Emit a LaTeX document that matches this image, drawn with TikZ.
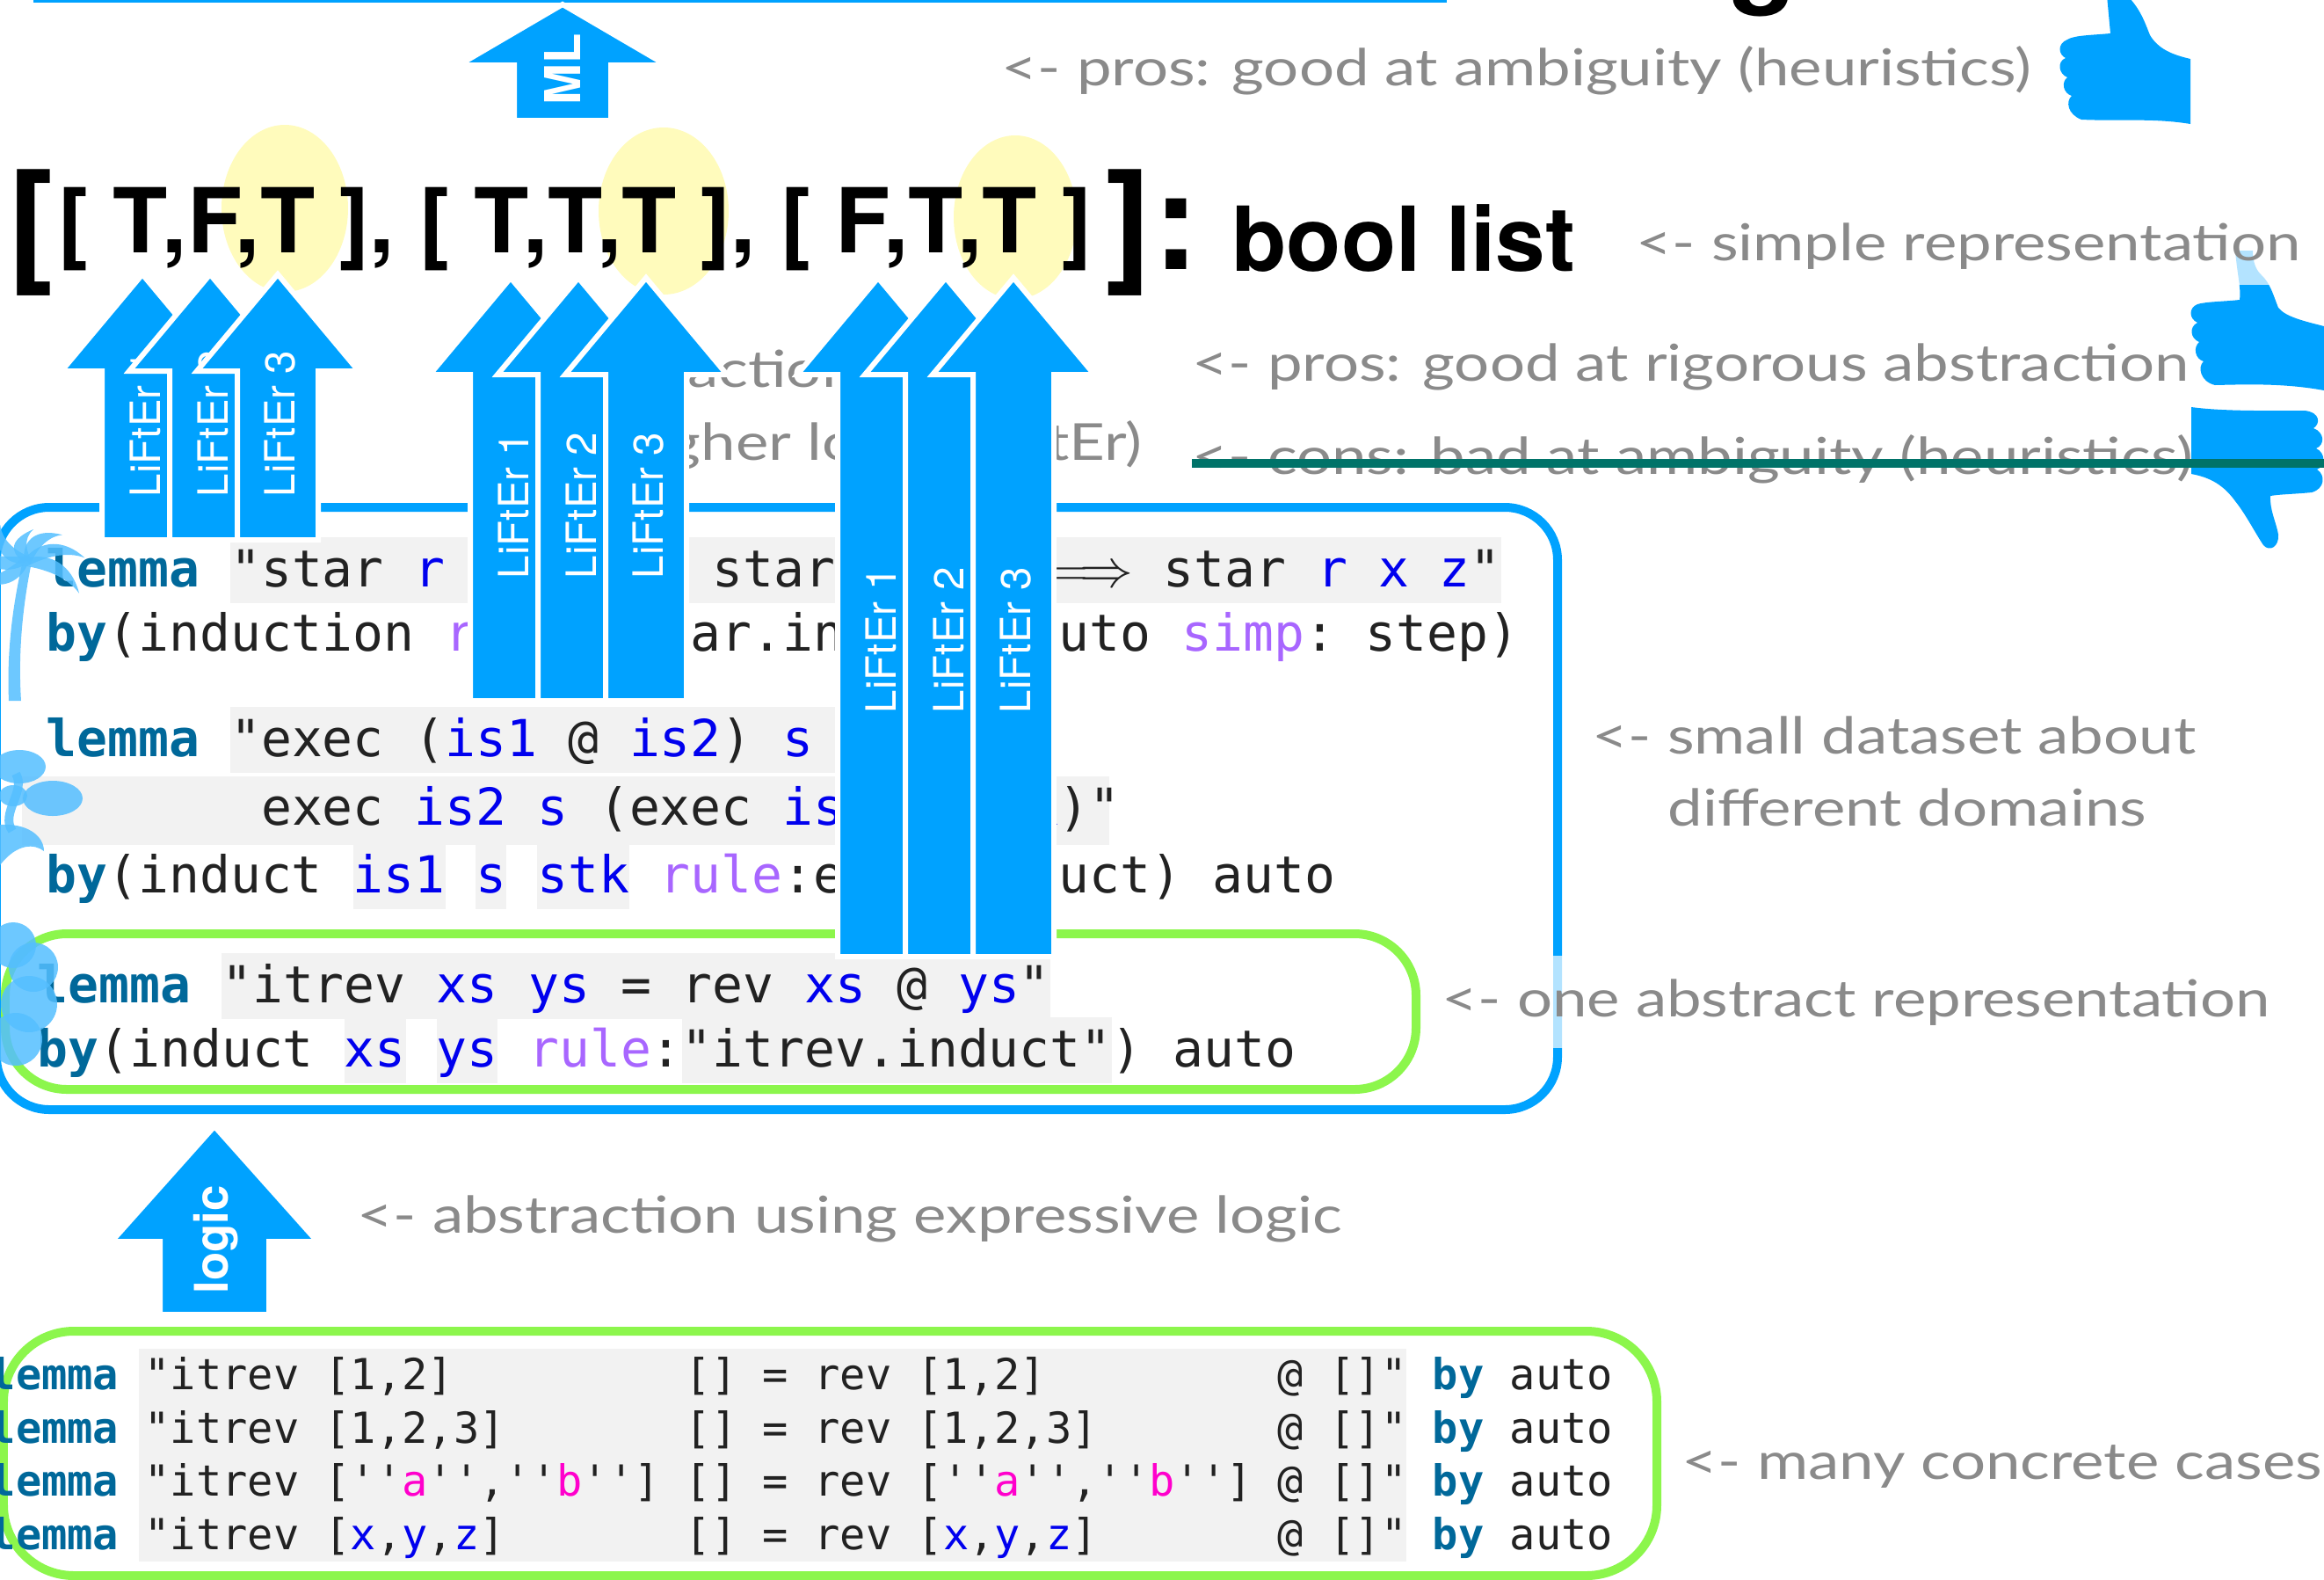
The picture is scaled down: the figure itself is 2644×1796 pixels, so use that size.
\documentclass[tikz,border=0pt]{standalone}
\usepackage{fontspec}
\setmonofont{DejaVu Sans Mono}
\newfontfamily\heros{TeX Gyre Heros}
\newfontfamily\notefont{Lato}[FakeStretch=1.22]

\definecolor{arrowblue}{RGB}{0,162,255}
\definecolor{boxgreen}{RGB}{140,246,76}
\definecolor{hiyellow}{RGB}{255,251,188}
\definecolor{notegray}{RGB}{138,138,138}
\definecolor{striketeal}{RGB}{0,115,105}
\definecolor{treeblue}{RGB}{84,190,255}
\definecolor{kwteal}{RGB}{0,104,154}
\definecolor{varblue}{RGB}{0,0,238}
\definecolor{rulepurple}{RGB}{168,102,255}
\definecolor{strpink}{RGB}{255,0,204}
\definecolor{codegray}{RGB}{242,242,242}
\definecolor{codeink}{RGB}{34,34,34}

% isabelle highlighting
\newcommand\kw[1]{\textcolor{kwteal}{\bfseries #1}}
\newcommand\vr[1]{\textcolor{varblue}{#1}}
\newcommand\prp[1]{\textcolor{rulepurple}{#1}}
\newcommand\chr[1]{\textcolor{strpink}{#1}}
\newcommand\hlt[1]{{\setlength\fboxsep{0pt}\colorbox{codegray}{\rule[-5.5pt]{0pt}{21.5pt}#1}}}

% block arrow: tip x, tip y, head base y, bottom y, head half width, shaft half width
\newcommand\blockarrow[6]{%
  \draw[arrowbody] (#1,#2) -- (#1+#5,#3) -- (#1+#6,#3) -- (#1+#6,#4)
    -- (#1-#6,#4) -- (#1-#6,#3) -- (#1-#5,#3) -- cycle;}

\tikzset{
  arrowbody/.style={fill=arrowblue,draw=white,line width=0.6mm},
  liftlabel/.style={rotate=90,inner sep=0,text=white,font=\heros\fontsize{13.5}{16}\selectfont},
  arrowword/.style={rotate=90,inner sep=0,text=white,font=\heros\bfseries\fontsize{16}{18}\selectfont},
  note/.style={anchor=base west,inner sep=0,text=notegray,font=\notefont\fontsize{16.5}{20}\selectfont},
  veil/.style={fill=white,fill opacity=0.7,text opacity=1},
  code/.style={anchor=base west,inner sep=0,text=codeink,font=\ttfamily\fontsize{16.5}{21.5}\selectfont},
  smallcode/.style={anchor=base west,inner sep=0,text=codeink,font=\ttfamily\fontsize{13.85}{17}\selectfont},
  bigbr/.style={anchor=base west,inner sep=0,font=\heros\bfseries\fontsize{44}{48}\selectfont},
  roundbox/.style={line width=1mm,rounded corners=6mm},
  tree/.style={fill=treeblue,opacity=0.85},
  strike/.style={draw=striketeal,line width=1mm}
}

\begin{document}
\begin{tikzpicture}[x=0.1mm,y=-0.1mm]
\useasboundingbox (0,0) rectangle (2644,1796);

% title remains
\draw[arrowblue,line width=0.4mm] (38,1) -- (1646,1);
\node[anchor=base west,inner sep=0,font=\heros\bfseries\fontsize{36}{40}\selectfont] (titleg) at (1966,-9) {g};

% highlighted last elements
\fill[hiyellow] (324,237) ellipse [x radius=7.2mm,y radius=9.5mm];
\fill[hiyellow] (755,240) ellipse [x radius=7.4mm,y radius=9.5mm];
\fill[hiyellow] (1155,247) ellipse [x radius=7mm,y radius=9.3mm];

% the feature vectors
\node[bigbr] (lbr) at (9,305) {[};
\node[anchor=base west,inner sep=0,font=\heros\bfseries\fontsize{29}{32}\selectfont] (vecs) at (66,287) {[ T,F,T ], [ T,T,T ], [ F,T,T ]};
\node[bigbr] (rbr) at (1258,305) {]};
\node[bigbr] (colon) at (1312,306) {:};
\node[anchor=base west,inner sep=0,font=\heros\bfseries\fontsize{29}{32}\selectfont] (type) at (1401,308) {bool list};

% notes hidden behind the arrows
\node[note,anchor=base east] (n5) at (975,440) {<- abstraction};
\node[note,anchor=base east] (n6) at (1300,523) {in higher logic (LiFtEr)};

% dataset boxes
\draw[roundbox,arrowblue] (-4,577) rectangle (1772,1262);
\draw[roundbox,boxgreen,rounded corners=7mm] (6,1062) rectangle (1611,1239);
\draw[roundbox,boxgreen,rounded corners=8mm] (4,1514) rectangle (1885,1792);

% small dataset
\node[code] (lem1) at (52,667) {\kw{lemma} \hlt{"star \vr{r} \vr{x} \vr{y} $\Longrightarrow$ star \vr{r} \vr{y} \vr{z} $\Longrightarrow$ star \vr{r} \vr{x} \vr{z}"}};
\node[code] (by1) at (52,740) {\kw{by}(induction \prp{rule}: star.induct)(auto \prp{simp}: step)};
\node[code] (lem2) at (52,860) {\kw{lemma} \hlt{"exec (\vr{is1} @ \vr{is2}) \vr{s} \vr{stk} =}};
\fill[codegray] (25,883) rectangle (1262,961);
\node[code] (lem2b) at (52,938) {\hphantom{lemma "}exec \vr{is2} \vr{s} (exec \vr{is1} \vr{s} \vr{stk})"};
\node[code] (by2) at (52,1015) {\kw{by}(induct \hlt{\vr{is1}} \hlt{\vr{s}} \hlt{\vr{stk}} \prp{rule}:exec.induct) auto};
\node[code] (lem3) at (42,1140) {\kw{lemma} \hlt{"itrev \vr{xs} \vr{ys} = rev \vr{xs} @ \vr{ys}"}};
\node[code] (by3) at (42,1213) {\kw{by}(induct \hlt{\vr{xs}} \hlt{\vr{ys}} \prp{rule}:\hlt{"itrev.induct"}) auto};

% domain icons: palm, bonsai, oak
\fill[tree] (25,642) .. controls (12,700) and (8,750) .. (10,797) -- (24,797) .. controls (21,750) and (24,700) .. (35,644) -- cycle;
\foreach \ang/\len in {-25/70,10/66,45/50,90/36,135/50,170/66,205/62}
  \fill[tree,rotate around={\ang:(30,638)}] (30,634) .. controls (30+0.3*\len,618) and (30+0.7*\len,620) .. (30+\len,646)
    .. controls (30+0.7*\len,634) and (30+0.3*\len,638) .. (30,644) -- cycle;
\fill[tree] (22,872) ellipse [x radius=3mm,y radius=1.9mm];
\fill[tree] (60,908) ellipse [x radius=3.4mm,y radius=2mm];
\fill[tree] (15,905) ellipse [x radius=1.6mm,y radius=1.2mm];
\draw[treeblue,line width=1mm,opacity=0.85] (14,945) .. controls (0,925) and (30,900) .. (18,880);
\fill[tree] (0,938) .. controls (30,936) and (50,950) .. (50,968) .. controls (40,960) and (20,958) .. (0,984) -- cycle;
\fill[tree] (15,1075) circle [radius=2.6mm];
\fill[tree] (38,1100) circle [radius=2.8mm];
\fill[tree] (33,1142) circle [radius=3.2mm];
\fill[tree] (18,1182) circle [radius=3mm];

% concrete cases
\fill[codegray] (158,1534) rectangle (1600,1776);
\node[smallcode] (ex1) at (-12,1580) {\kw{lemma} "itrev [1,2]~~~~~~~~~[] = rev [1,2]~~~~~~~~~@ []" \kw{by} auto};
\node[smallcode] (ex2) at (-12,1641) {\kw{lemma} "itrev [1,2,3]~~~~~~~[] = rev [1,2,3]~~~~~~~@ []" \kw{by} auto};
\node[smallcode] (ex3) at (-12,1701) {\kw{lemma} "itrev [''\chr{a}'',''\chr{b}''] [] = rev [''\chr{a}'',''\chr{b}''] @ []" \kw{by} auto};
\node[smallcode] (ex4) at (-12,1762) {\kw{lemma} "itrev [\vr{x},\vr{y},\vr{z}]~~~~~~~[] = rev [\vr{x},\vr{y},\vr{z}]~~~~~~~@ []" \kw{by} auto};

% LiFtEr assertions, three per lemma
\foreach \gx/\tipy/\basey/\boty/\laby [count=\g] in {162/312/422/614/482,581/316/426/797/575,999/316/426/1088/728} {
  \foreach \i in {1,2,3} {
    \pgfmathsetmacro\ax{\gx+77*(\i-1)}
    \blockarrow{\ax}{\tipy}{\basey}{\boty}{92}{46}
    \node[liftlabel] (lift\g\i) at (\ax+3,\laby) {LiFtEr \i};
  }
}

% ML and logic arrows
\blockarrow{640}{5}{74}{137}{118}{55}
\node[arrowword] (ml) at (640,79) {ML};
\blockarrow{244}{1281}{1412}{1495}{117}{62}
\node[arrowword,font=\heros\bfseries\fontsize{15}{18}\selectfont] (logic) at (246,1410) {logic};

% thumbs
\fill[arrowblue] (2397,-5) -- (2401,38) .. controls (2380,40) and (2360,40) .. (2352,45)
  .. controls (2340,50) and (2342,62) .. (2350,66) .. controls (2340,70) and (2342,84) .. (2352,88)
  .. controls (2345,93) and (2347,106) .. (2357,109) .. controls (2350,115) and (2352,130) .. (2368,136)
  .. controls (2410,138) and (2450,134) .. (2492,141) -- (2492,67)
  .. controls (2470,62) and (2455,55) .. (2446,40) .. controls (2440,25) and (2435,10) .. (2420,-5) -- cycle;
\fill[arrowblue] (2543,285) .. controls (2545,310) and (2550,330) .. (2548,341)
  .. controls (2530,343) and (2510,343) .. (2500,346) .. controls (2490,350) and (2490,362) .. (2500,367)
  .. controls (2490,372) and (2492,385) .. (2502,389) .. controls (2495,395) and (2497,408) .. (2507,411)
  .. controls (2500,417) and (2503,434) .. (2520,438) .. controls (2560,437) and (2600,436) .. (2644,444)
  -- (2644,371) .. controls (2620,365) and (2600,360) .. (2592,350)
  .. controls (2586,335) and (2583,322) .. (2572,312) .. controls (2565,305) and (2563,295) .. (2563,285) -- cycle;
\fill[arrowblue] (2493,463) .. controls (2530,468) and (2580,467) .. (2622,467)
  .. controls (2640,469) and (2640,482) .. (2632,487) .. controls (2645,492) and (2645,506) .. (2635,510)
  .. controls (2646,515) and (2646,530) .. (2636,534) .. controls (2646,540) and (2645,556) .. (2630,560)
  .. controls (2610,562) and (2595,562) .. (2583,564) .. controls (2582,580) and (2590,595) .. (2592,608)
  .. controls (2593,622) and (2582,628) .. (2575,620) .. controls (2565,605) and (2555,585) .. (2543,570)
  .. controls (2530,552) and (2515,543) .. (2493,539) -- cycle;

% side notes
\node[note] (n1) at (1139,97) {<- pros: good at ambiguity (heuristics)};
\node[note,veil,inner xsep=0.3mm,inner ysep=1.8mm] (n2) at (1858,296) {<- simple representation};
\node[note] (n3) at (1356,433) {<- pros: good at rigorous abstraction};
\node[note] (n4) at (1356,539) {<- cons: bad at ambiguity (heuristics)};
\draw[strike] ([yshift=1.2mm]n4.base west) -- ++(1300,0);
\node[note,anchor=base] (n7a) at (2155,857) {<- small dataset about};
\node[note,anchor=base] (n7b) at (2170,939) {different domains};
\node[note,veil,inner xsep=0.2mm,inner ysep=2.6mm] (n8) at (1638,1156) {<- one abstract representation};
\node[note] (n9) at (406,1402) {<- abstraction using expressive logic};
\node[note] (n10) at (1913,1682) {<- many concrete cases};
\end{tikzpicture}
\end{document}
